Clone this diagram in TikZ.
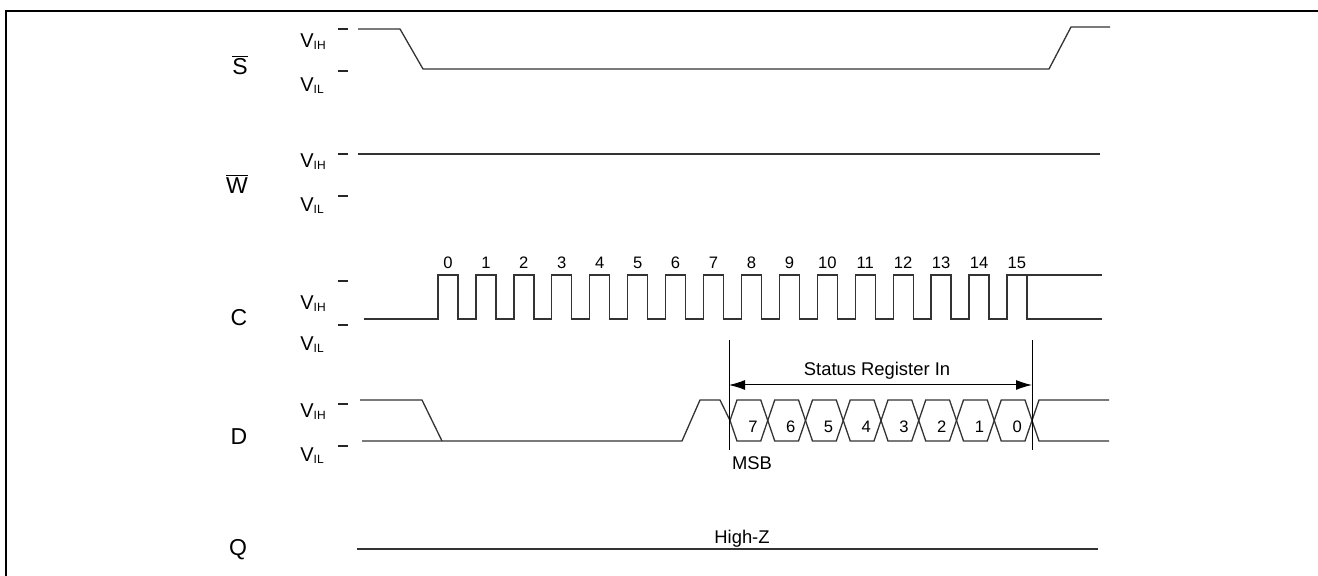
\documentclass[tikz,border=0pt]{standalone}
\usepackage{fontspec}
\setmainfont{Liberation Sans}
\usetikzlibrary{arrows.meta}

\newcommand{\lvltext}[1]{{\fontsize{10}{12}\selectfont V}\raisebox{-1pt}{\fontsize{6}{7}\selectfont #1}}

\begin{document}
\begin{tikzpicture}[
  x=0.5pt, y=-0.5pt,
  sig/.style={line width=0.65pt, draw=black!80},
  lvltick/.style={line width=0.85pt, draw=black!85},
  guide/.style={line width=0.5pt},
  rowname/.style={font=\fontsize{11.5}{13}\selectfont, inner sep=0pt, anchor=base},
  lvl/.style={inner sep=0pt, anchor=base west},
  bitnum/.style={font=\fontsize{8.3}{10}\selectfont, inner sep=0pt},
  note/.style={font=\fontsize{9.2}{11}\selectfont, inner sep=0pt},
  spanarrow/.style={{Latex[length=8pt,width=5pt]}-{Latex[length=8pt,width=5pt]}, line width=0.5pt}
]
\useasboundingbox (0,0) rectangle (1318,576);

% --- Frame -------------------------------------------------------------------
\draw[line width=1pt] (6,576) -- (6,11) -- (1318,11);

% --- Signal names --------------------------------------------------------------
\node[rowname] (nS) at (240,75) {$\overline{\mbox{S}}$};
\node[rowname] (nW) at (237,194) {$\overline{\mbox{W}}$};
\node[rowname] (nC) at (239,326) {C};
\node[rowname] (nD) at (239,445) {D};
\node[rowname] (nQ) at (238,556) {Q};

% --- Levels (labels + ticks) ---------------------------------------------------
\foreach \nm/\yh/\yl/\th/\tl in {S/48/92/29/71, W/168/212/154/196, C/310/351/281/325, D/418/462/404/446} {
  \node[lvl] (\nm IH) at (300,\yh) {\lvltext{IH}};
  \node[lvl] (\nm IL) at (300,\yl) {\lvltext{IL}};
  \draw[lvltick] (338,\th) -- (348,\th);
  \draw[lvltick] (338,\tl) -- (348,\tl);
}

% --- S and W -------------------------------------------------------------------
\draw[sig] (358,29) -- (400,29) -- (423,69) -- (1049,69) -- (1071,27) -- (1110,27);
\draw[sig] (358,154) -- (1100,154);

% --- C: 16 clock pulses ------------------------------------------------------------
\draw[sig] (364,319) foreach \k in {0,...,15} { -- (438+37.93*\k,319) -- ++(0,-44) -- ++(20,0) -- ++(0,44) } -- (1102,319);
\draw[sig] (1027,275) -- (1102,275);
\foreach \k in {0,...,15}
  \node[bitnum] (c\k) at (448+37.93*\k,263) {\k};

% --- D: data bits 7..0 ---------------------------------------------------------
\draw[sig] (360,400) -- (422,400) -- (442,441);
\draw[sig] (362,441) -- (682,441) -- (700,400) -- (720,400) -- (730,420.5);
\foreach \j in {0,...,7} {
  \pgfmathsetmacro{\xa}{730+37.75*\j}
  \pgfmathsetmacro{\xb}{\xa+37.75}
  \pgfmathtruncatemacro{\bit}{7-\j}
  \draw[sig] (\xa,420.5) -- (\xa+7,400) -- (\xb-7,400) -- (\xb,420.5) -- (\xb-7,441) -- (\xa+7,441) -- cycle;
  \node[bitnum] (d\bit) at (\xa+23,427) {\bit};
}
\draw[sig] (1109,400) -- (1039,400) -- (1032,420.5) -- (1039,441) -- (1109,441);

% --- Status Register In span -----------------------------------------------------
\coordinate (mLt) at (729,340);
\coordinate (mLb) at (729,450);
\coordinate (mRt) at (1032,340);
\coordinate (mRb) at (1032,450);
\draw[guide] (mLt) -- (mLb);
\draw[guide] (mRt) -- (mRb);
\coordinate (aL) at (729,385);
\coordinate (aR) at (1032,385);
\draw[spanarrow] (aL) -- (aR);
\node[note] (sri) at (877,371) {Status Register In};
\node[note] (msb) at (752,463) {MSB};

% --- Q ---------------------------------------------------------------------------
\draw[sig] (357,549) -- (1098,549);
\node[note] (hz) at (742,539) {High-Z};

\end{tikzpicture}
\end{document}
